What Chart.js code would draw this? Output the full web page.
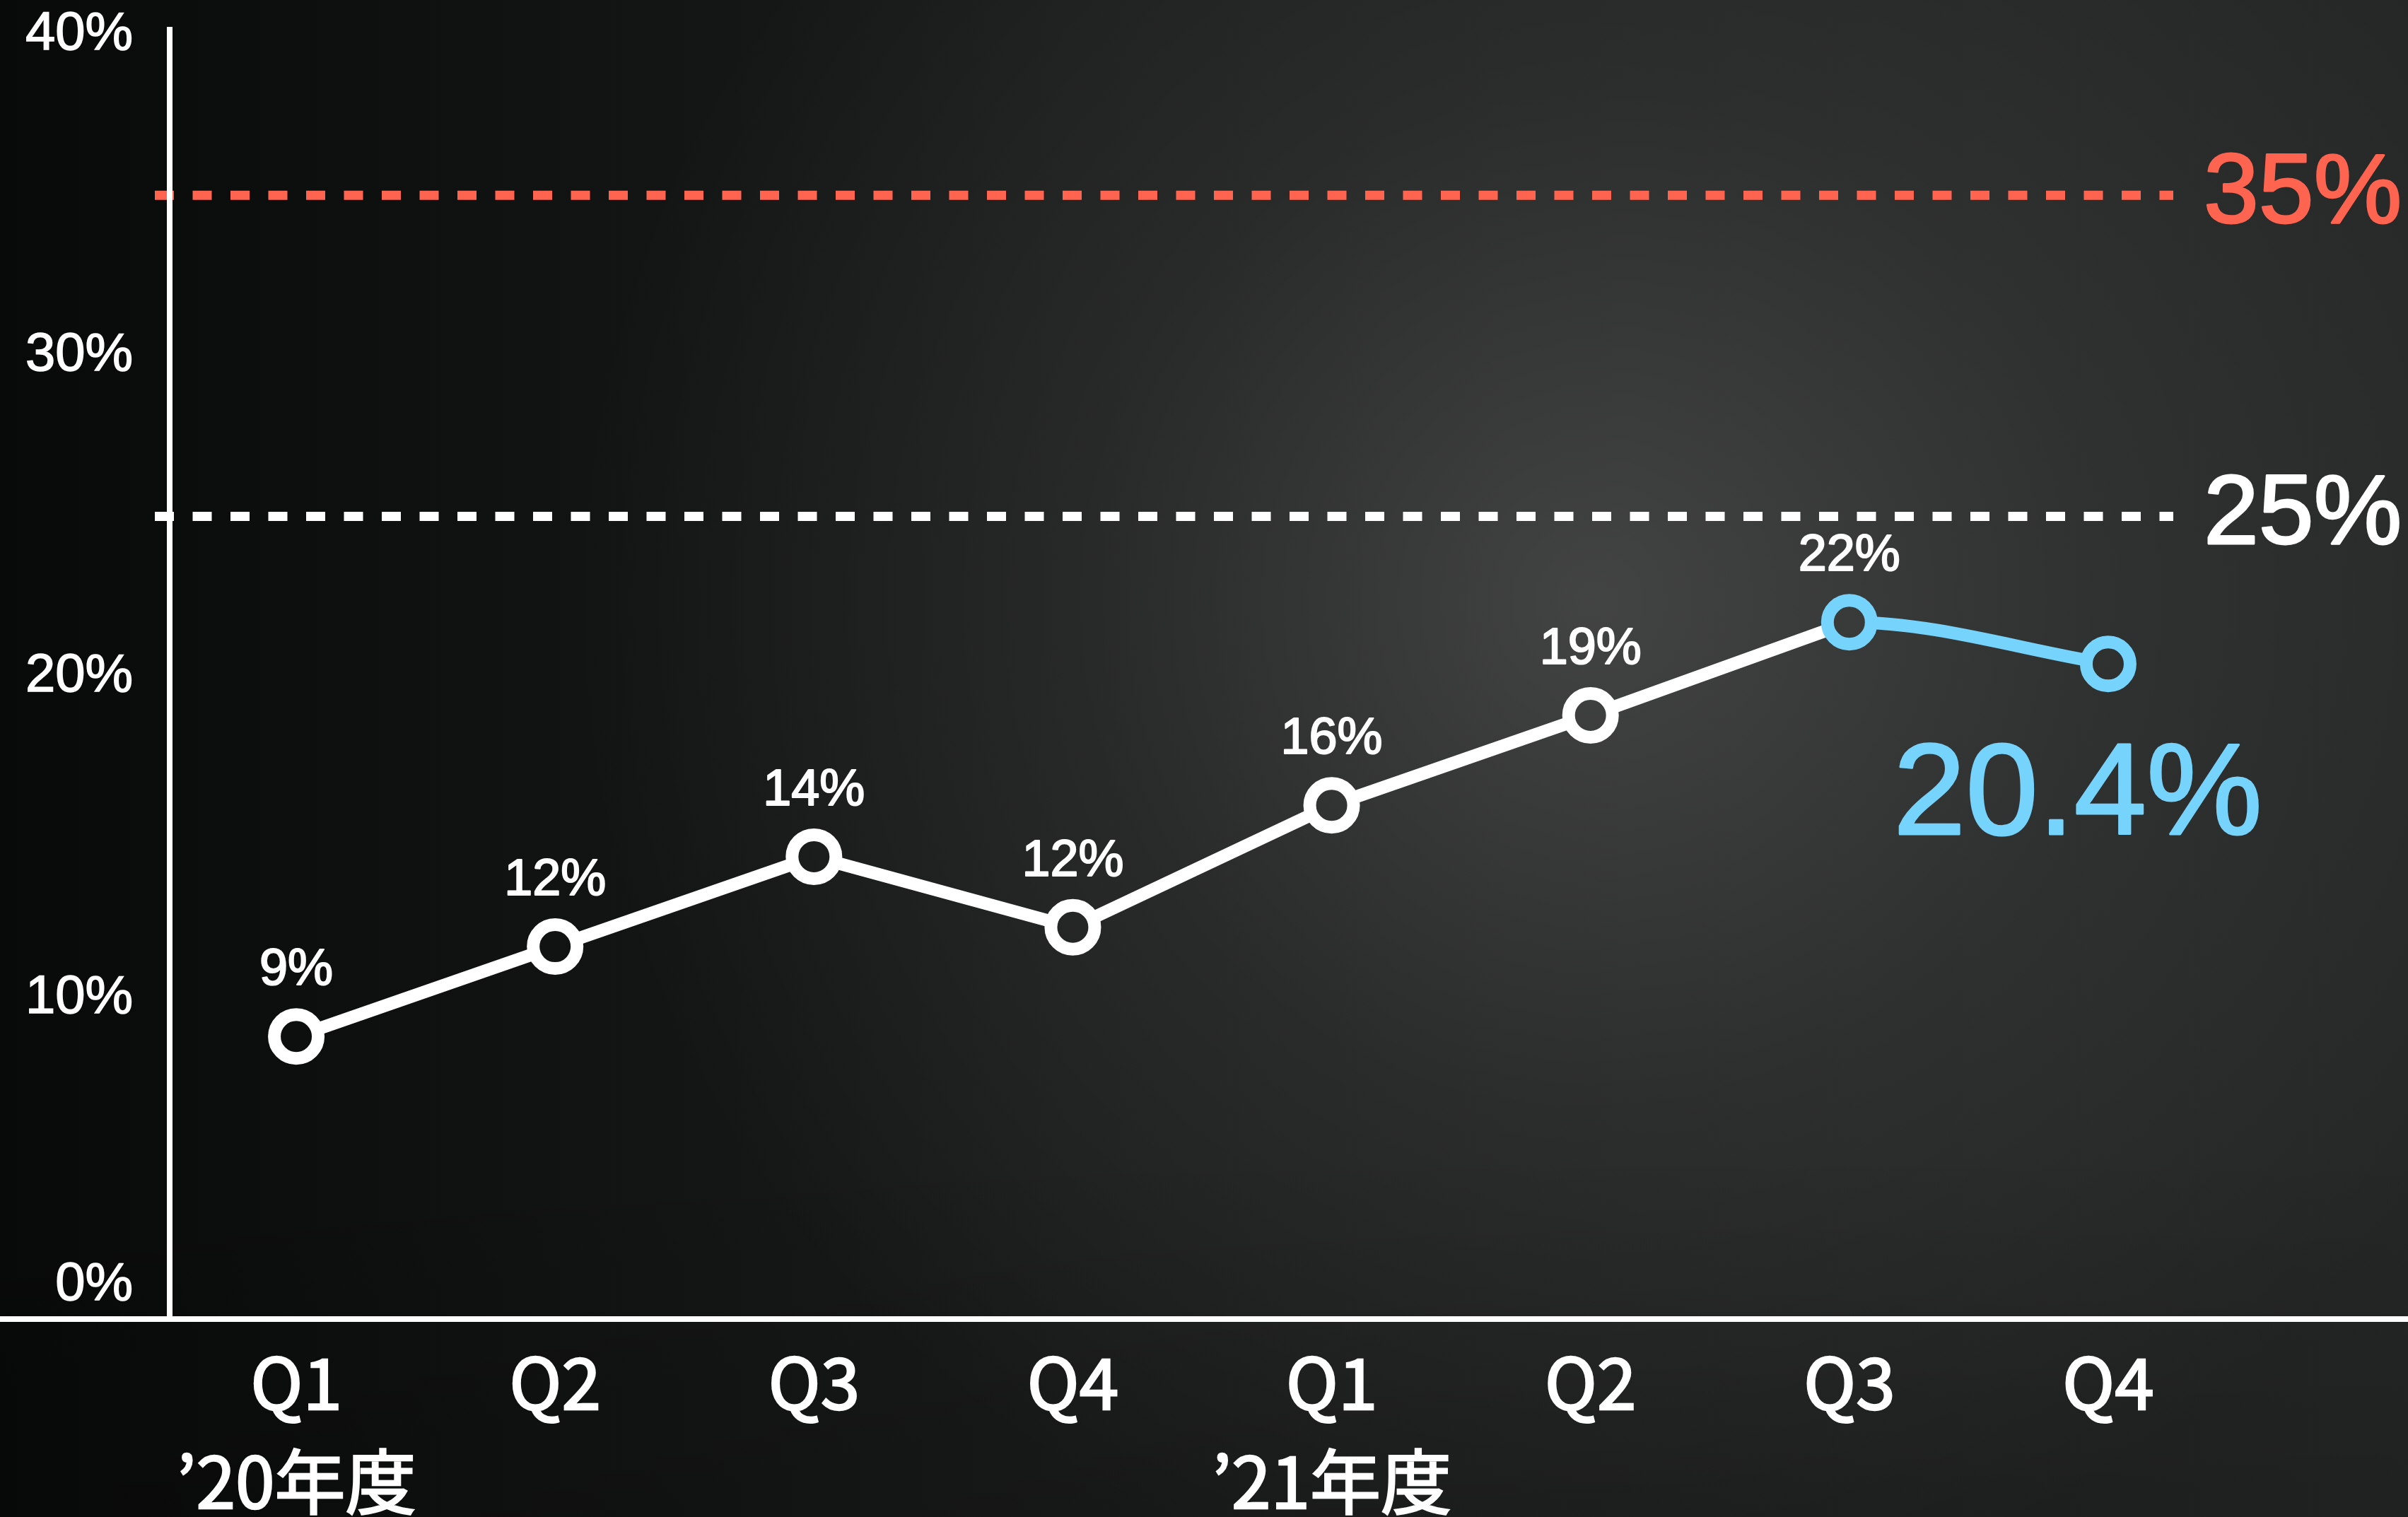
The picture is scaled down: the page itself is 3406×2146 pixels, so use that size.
<!DOCTYPE html>
<html>
<head>
<meta charset="utf-8">
<script src="https://cdn.jsdelivr.net/npm/chart.js@4.4.1/dist/chart.umd.min.js"></script>
<style>
  html, body { margin: 0; padding: 0; background: #111; }
  canvas { display: block; }
</style>
</head>
<body>
<canvas id="chart" width="3406" height="2146"></canvas>
<script>
// quarterly ratio, '20 Q1 .. '21 Q4
const quarters = ['Q1', 'Q2', 'Q3', 'Q4', 'Q1', 'Q2', 'Q3', 'Q4'];
const fiscalYears = ['’20年度', '', '', '', '’21年度', '', '', ''];
const ratio = [8.8, 11.6, 14.4, 12.2, 16.0, 18.8, 21.7, 20.4];
const yTicks = [0, 10, 20, 30, 40];
const targets = [35, 25];
const targetColors = ['#ff6450', '#ffffff'];
const forecastFrom = 6; // from Q3 '21 the line is blue

const WHITE = '#ffffff';
const BLUE = '#76d3fc';
const SANS = '"Liberation Sans", Arial, sans-serif';

const canvas = document.getElementById('chart');
const ctx = canvas.getContext('2d');

// background painted once offscreen, reused for the point holes
const bg = document.createElement('canvas');
bg.width = canvas.width;
bg.height = canvas.height;
(function paintBackground() {
	const g = bg.getContext('2d');
	const w = bg.width, h = bg.height;
	const lin = g.createLinearGradient(0, 0, w, 0);
	lin.addColorStop(0, '#080909');
	lin.addColorStop(0.45, '#1a1b1b');
	lin.addColorStop(1, '#252727');
	g.fillStyle = lin;
	g.fillRect(0, 0, w, h);
	const rad = g.createRadialGradient(2250, 850, 0, 2250, 850, 1450);
	rad.addColorStop(0, 'rgba(255,255,255,0.16)');
	rad.addColorStop(0.5, 'rgba(255,255,255,0.06)');
	rad.addColorStop(1, 'rgba(255,255,255,0)');
	g.fillStyle = rad;
	g.fillRect(0, 0, w, h);
	const vert = g.createLinearGradient(0, 0, 0, h);
	vert.addColorStop(0.75, 'rgba(0,0,0,0)');
	vert.addColorStop(1, 'rgba(0,0,0,0.15)');
	g.fillStyle = vert;
	g.fillRect(0, 0, w, h);
})();
const holeFill = ctx.createPattern(bg, 'no-repeat');

// filled text with a thin outline, a bit heavier than the regular face
function heavyText(c, text, x, y, color, stroke) {
	c.fillStyle = color;
	c.strokeStyle = color;
	c.lineWidth = stroke;
	c.lineJoin = 'round';
	c.strokeText(text, x, y);
	c.fillText(text, x, y);
}

const decorations = {
	id: 'decorations',
	beforeDraw(chart) {
		chart.ctx.drawImage(bg, 0, 0);
	},
	beforeDatasetsDraw(chart) {
		const c = chart.ctx;
		const area = chart.chartArea;
		const y = chart.scales.y;
		c.save();
		// target lines with their labels
		targets.forEach((t, i) => {
			const py = y.getPixelForValue(t);
			c.strokeStyle = targetColors[i];
			c.lineWidth = 13;
			c.setLineDash([27, 26.5]);
			c.beginPath();
			c.moveTo(area.left - 17, py);
			c.lineTo(area.right - 91, py);
			c.stroke();
			c.setLineDash([]);
			c.font = '140px ' + SANS;
			c.textAlign = 'left';
			c.textBaseline = 'middle';
			heavyText(c, t + '%', area.right - 48, py, targetColors[i], 3);
		});
		// axis lines
		c.fillStyle = WHITE;
		c.fillRect(0, area.bottom - 4, chart.width, 8);
		c.fillRect(area.left, area.top - 11, 8, area.bottom - area.top + 11);
		// 0% sits above the x axis
		c.font = '76px ' + SANS;
		c.textAlign = 'right';
		c.textBaseline = 'middle';
		heavyText(c, yTicks[0] + '%', area.left - 48, y.getPixelForValue(yTicks[0]) - 48, WHITE, 1.5);
		c.restore();
	},
	afterDatasetsDraw(chart) {
		const c = chart.ctx;
		const x = chart.scales.x;
		const y = chart.scales.y;
		c.save();
		c.font = '72px ' + SANS;
		c.textAlign = 'center';
		c.textBaseline = 'middle';
		for (let i = 0; i < ratio.length - 1; i++) {
			heavyText(c, Math.round(ratio[i]) + '%', x.getPixelForValue(i), y.getPixelForValue(ratio[i]) - 93, WHITE, 2);
		}
		const last = ratio.length - 1;
		c.font = '184px ' + SANS;
		heavyText(c, ratio[last].toFixed(1) + '%', x.getPixelForValue(last) - 43, y.getPixelForValue(ratio[last]) + 190, BLUE, 3);
		c.restore();
	}
};

new Chart(canvas, {
	type: 'line',
	data: {
		labels: quarters.map((q, i) => fiscalYears[i] ? [q, fiscalYears[i]] : q),
		datasets: [
			{
				// blue forecast part, Q2 '21 kept only to shape the curve
				data: ratio.map((v, i) => i >= forecastFrom - 1 ? v : null),
				order: 0,
				borderColor: BLUE,
				borderWidth: 18,
				cubicInterpolationMode: 'monotone',
				pointRadius: ratio.map((v, i) => i >= forecastFrom ? 31 : 0),
				pointBorderWidth: 18,
				pointBorderColor: BLUE,
				pointBackgroundColor: holeFill,
				segment: {
					borderColor: s => s.p0DataIndex < forecastFrom ? 'rgba(0,0,0,0)' : BLUE
				}
			},
			{
				data: ratio.map((v, i) => i <= forecastFrom ? v : null),
				order: 1,
				borderColor: WHITE,
				borderWidth: 18,
				tension: 0,
				pointRadius: ratio.map((v, i) => i < forecastFrom ? 31 : 0),
				pointBorderWidth: 18,
				pointBorderColor: WHITE,
				pointBackgroundColor: holeFill
			}
		]
	},
	options: {
		responsive: false,
		animation: false,
		devicePixelRatio: 1,
		layout: { padding: { top: 48, right: 241, left: 0, bottom: 0 } },
		plugins: {
			legend: { display: false },
			tooltip: { enabled: false }
		},
		scales: {
			x: {
				offset: true,
				grid: { display: false, drawTicks: false },
				border: { display: false },
				ticks: {
					color: WHITE,
					textStrokeColor: WHITE,
					textStrokeWidth: 2.5,
					autoSkip: false,
					maxRotation: 0,
					padding: 20,
					font: { family: '"Noto Sans CJK JP", "Noto Sans", sans-serif', size: 100, lineHeight: 1.4 }
				},
				afterFit: scale => {
					scale.height = 280;
					scale.paddingLeft = 0;
					scale.paddingRight = 0;
				}
			},
			y: {
				min: yTicks[0],
				max: yTicks[yTicks.length - 1],
				grid: { display: false, drawTicks: false },
				border: { display: false },
				afterBuildTicks: scale => { scale.ticks = yTicks.map(v => ({ value: v })); },
				ticks: {
					color: WHITE,
					textStrokeColor: WHITE,
					textStrokeWidth: 1.5,
					padding: 48,
					font: { family: SANS, size: 76 },
					callback: v => v === 0 ? '' : v + '%'
				},
				afterFit: scale => {
					scale.width = 236;
					scale.paddingTop = 0;
					scale.paddingBottom = 0;
				}
			}
		}
	},
	plugins: [decorations]
});
</script>
</body>
</html>
